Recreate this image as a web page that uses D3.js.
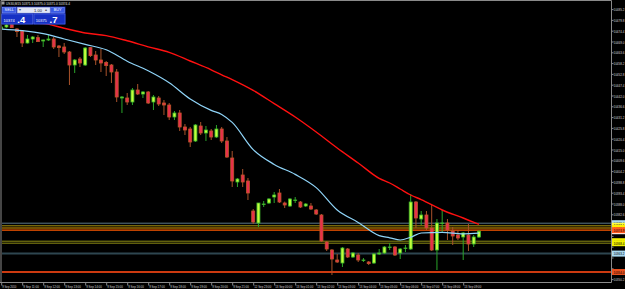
<!DOCTYPE html>
<html>
<head>
<meta charset="utf-8">
<script src="https://cdn.jsdelivr.net/npm/d3@7"></script>
<style>
  html, body { margin: 0; padding: 0; background: #000; }
  svg { display: block; }
  text { font-family: "Liberation Sans", Arial, sans-serif; }
</style>
</head>
<body>
<svg id="chart" width="625" height="289"></svg>
<script>
// US30 M15 candles, 9 Sep 10:00 -> 13 Sep morning
const open = [
  10475.8, 10476.5, 10477.7, 10475.5, 10474.5, 10468.5, 10470.5, 10471.2, 10469.5, 10470.0,
  10470.5, 10467.0, 10466.5, 10464.0, 10457.5, 10460.5, 10457.5, 10466.2, 10462.5, 10460.0,
  10458.8, 10457.5, 10454.0, 10441.0, 10441.0, 10439.0, 10445.0, 10443.0, 10444.0, 10439.0,
  10441.0, 10438.5, 10437.5, 10431.5, 10433.5, 10426.5, 10425.5, 10419.5, 10427.0, 10423.5,
  10424.5, 10421.5, 10425.5, 10419.5, 10411.0, 10399.0, 10402.5, 10399.5, 10384.5, 10378.5,
  10387.8, 10388.5, 10391.5, 10393.5, 10388.5, 10387.0, 10389.8, 10389.0, 10387.0, 10387.0,
  10385.0, 10382.5, 10369.0, 10365.0, 10360.0, 10358.5, 10365.5, 10361.5, 10362.5, 10359.8,
  10359.0, 10358.5, 10363.0, 10363.5, 10366.3, 10366.5, 10363.5, 10365.8, 10365.5, 10389.0,
  10380.5, 10382.5, 10376.0, 10365.0, 10378.3, 10378.5, 10374.5, 10372.5, 10371.5, 10372.5,
  10368.0, 10371.5
];
const high = [
  10477.0, 10478.5, 10478.0, 10476.0, 10475.0, 10472.5, 10472.0, 10472.5, 10470.2, 10472.5,
  10471.5, 10467.5, 10468.5, 10464.5, 10460.5, 10461.5, 10466.5, 10466.5, 10464.5, 10465.5,
  10459.5, 10458.0, 10455.5, 10442.0, 10443.5, 10446.0, 10448.0, 10444.5, 10444.5, 10442.5,
  10442.0, 10440.0, 10438.5, 10434.5, 10435.0, 10428.0, 10426.5, 10428.0, 10429.0, 10427.0,
  10425.5, 10427.5, 10426.5, 10421.5, 10414.5, 10401.0, 10405.5, 10401.0, 10385.5, 10388.5,
  10389.5, 10391.0, 10394.0, 10395.5, 10389.2, 10391.0, 10391.5, 10389.5, 10388.5, 10388.5,
  10385.5, 10383.0, 10369.5, 10365.5, 10363.0, 10366.5, 10366.0, 10364.0, 10363.5, 10361.0,
  10359.5, 10363.5, 10365.5, 10367.0, 10368.5, 10367.0, 10366.0, 10367.5, 10393.0, 10389.5,
  10384.5, 10384.5, 10387.5, 10380.5, 10385.0, 10380.5, 10376.5, 10375.0, 10374.0, 10378.0,
  10372.5, 10375.0
];
const low = [
  10475.0, 10476.0, 10476.0, 10471.5, 10466.5, 10468.2, 10468.5, 10469.0, 10466.5, 10469.5,
  10465.5, 10461.5, 10463.0, 10447.5, 10453.5, 10456.5, 10457.0, 10461.5, 10457.5, 10454.0,
  10452.0, 10448.5, 10439.0, 10433.5, 10437.5, 10437.5, 10442.5, 10441.0, 10438.0, 10435.0,
  10437.0, 10432.5, 10430.0, 10430.0, 10424.5, 10422.5, 10416.5, 10419.0, 10422.5, 10419.5,
  10420.0, 10421.0, 10418.5, 10411.0, 10396.5, 10396.5, 10396.5, 10390.0, 10378.0, 10376.5,
  10386.5, 10388.0, 10388.5, 10388.5, 10386.0, 10386.5, 10388.5, 10386.0, 10386.5, 10385.0,
  10382.5, 10369.0, 10364.5, 10352.5, 10358.5, 10356.5, 10361.0, 10361.0, 10359.0, 10359.0,
  10357.5, 10358.0, 10362.5, 10363.0, 10365.0, 10362.0, 10360.5, 10364.0, 10365.0, 10376.0,
  10377.5, 10375.0, 10364.5, 10355.0, 10373.5, 10370.0, 10367.5, 10370.0, 10360.0, 10364.5,
  10366.5, 10371.0
];
const close = [
  10476.5, 10477.5, 10476.2, 10474.2, 10468.5, 10470.5, 10471.5, 10469.2, 10470.0, 10470.5,
  10466.5, 10466.2, 10464.0, 10457.5, 10460.0, 10458.5, 10466.0, 10462.2, 10460.0, 10458.5,
  10457.2, 10454.0, 10441.5, 10441.5, 10439.0, 10445.0, 10443.0, 10444.0, 10438.5, 10441.5,
  10438.0, 10437.5, 10431.5, 10433.5, 10426.5, 10425.0, 10419.0, 10427.5, 10423.5, 10425.0,
  10421.5, 10425.5, 10419.5, 10411.5, 10399.5, 10400.5, 10399.0, 10393.5, 10379.0, 10388.5,
  10388.0, 10390.5, 10392.5, 10389.0, 10387.5, 10390.5, 10390.0, 10386.5, 10388.0, 10385.5,
  10383.0, 10369.5, 10365.5, 10360.5, 10359.0, 10366.0, 10361.5, 10363.5, 10360.0, 10360.0,
  10358.2, 10363.0, 10363.5, 10366.5, 10366.5, 10362.5, 10365.5, 10366.0, 10389.0, 10381.0,
  10382.5, 10376.0, 10365.0, 10378.5, 10378.5, 10375.0, 10372.0, 10371.0, 10373.5, 10368.0,
  10371.5, 10374.4
];

// moving averages at these bars
const maBars = [0, 4, 8, 12, 16, 20, 24, 28, 32, 36, 40, 42, 44, 48, 52, 56, 60, 64, 68, 72, 74, 76, 78, 80, 84, 88, 91];
const maSlow = [10478.8, 10478.5, 10478.2, 10475.9, 10473.5, 10472.2, 10469.6, 10466.6, 10463.8, 10459.5,
  10455.1, 10452.6, 10450.2, 10444.8, 10438.2, 10431.5, 10424.0, 10416.0, 10408.5, 10400.8,
  10398.5, 10395.5, 10392.5, 10390.2, 10385.0, 10381.0, 10377.8];
const maFast = [10475.5, 10474.7, 10473.2, 10470.5, 10467.8, 10465.1, 10459.4, 10454.6, 10448.6, 10440.5,
  10434.8, 10432.8, 10428.8, 10415.2, 10407.8, 10402.8, 10396.2, 10385.0, 10378.8, 10372.2,
  10371.1, 10370.0, 10371.4, 10373.5, 10373.8, 10373.1, 10373.4];

// horizontal levels
const levelPrices = [10378.4, 10377.1, 10376.0, 10374.9, 10369.4, 10368.4, 10363.2, 10354.0];

const priceTicks = [
  10485.2, 10479.8, 10474.4, 10469.0, 10463.6, 10458.2, 10452.8, 10447.4, 10442.0, 10436.6,
  10431.2, 10425.8, 10420.4, 10415.0, 10409.6, 10404.2, 10398.8, 10393.4, 10388.0, 10382.6,
  10377.2, 10371.8, 10366.4, 10361.0, 10355.6, 10350.2
];
const timeLabels = [
  '9 Sep 2010', '9 Sep 11:00', '9 Sep 12:00', '9 Sep 13:00', '9 Sep 14:00', '9 Sep 15:00',
  '9 Sep 16:00', '9 Sep 17:00', '9 Sep 18:00', '9 Sep 19:00', '9 Sep 20:00', '9 Sep 21:00',
  '12 Sep 23:00', '13 Sep 00:00', '13 Sep 01:00', '13 Sep 02:00', '13 Sep 03:00', '13 Sep 04:00',
  '13 Sep 05:00', '13 Sep 06:00', '13 Sep 07:00', '13 Sep 08:00', '13 Sep 09:00'
];
const barsPerLabel = 4;

const symbol = 'US30,M15';
const bid = 10374.4;
const ask = 10375.7;
const lots = '1.00';

// styles for the levels (same order as levelPrices)
const levelLine = ['#5c7888', '#a89410', '#e09a00', '#ff5a00', '#8c8a14', '#8c8a14', '#2e4650', '#cc3a10'];
const levelWidth = [1, 1, 1, 1.2, 1, 1, 2, 2];
const levelTag = ['#a8d8f0', '#ffff40', '#ffee00', '#ff5a1e', '#f0f000', '#f0f000', '#a8d8f0', '#e8501e'];

const svg = d3.select('#chart');
const axisRight = 611.5, axisBottom = 282.5;

const x = d3.scaleLinear()
  .domain([0, open.length - 1])
  .range([1.2, 478.95]);

const y = d3.scaleLinear()
  .domain([d3.min(priceTicks), d3.max(priceTicks)])
  .range([279.6, 9.6]);

svg.append('rect').attr('width', 625).attr('height', 289).attr('fill', '#000');

svg.append('defs').append('clipPath').attr('id', 'plot-clip')
  .append('rect').attr('x', 2).attr('y', 1).attr('width', axisRight - 2).attr('height', axisBottom - 1);

const plot = svg.append('g').attr('clip-path', 'url(#plot-clip)');

// levels behind the candles
plot.append('g').selectAll('line')
  .data(levelPrices)
  .enter()
  .append('line')
    .attr('x1', 2).attr('x2', axisRight)
    .attr('y1', d => y(d)).attr('y2', d => y(d))
    .attr('stroke', (d, i) => levelLine[i])
    .attr('stroke-width', (d, i) => levelWidth[i]);

// candles
const bars = d3.range(open.length).map(i => ({
  i, o: open[i], h: high[i], l: low[i], c: close[i], up: close[i] >= open[i]
}));

const candle = plot.append('g').selectAll('g')
  .data(bars)
  .enter()
  .append('g');

candle.append('line')
  .attr('x1', d => x(d.i)).attr('x2', d => x(d.i))
  .attr('y1', d => y(d.h)).attr('y2', d => y(d.l))
  .attr('stroke', d => d.up ? '#2aa52a' : '#a8522a')
  .attr('stroke-width', 1);

candle.append('rect')
  .attr('x', d => x(d.i) - 1.5)
  .attr('width', 3)
  .attr('y', d => y(Math.max(d.o, d.c)))
  .attr('height', d => Math.max(Math.abs(y(d.o) - y(d.c)), 0.4))
  .attr('fill', d => d.up ? '#c2ff3c' : '#e8304c')
  .attr('stroke', d => d.up ? '#3cb52a' : '#bc5628')
  .attr('stroke-width', 0.8);

// moving averages
const maLine = d3.line()
  .x((d, k) => x(maBars[k]))
  .y(d => y(d))
  .curve(d3.curveMonotoneX);

plot.append('path')
  .attr('d', maLine(maSlow))
  .attr('fill', 'none')
  .attr('stroke', '#ff1010')
  .attr('stroke-width', 1.4);

plot.append('path')
  .attr('d', maLine(maFast))
  .attr('fill', 'none')
  .attr('stroke', '#8fd4f8')
  .attr('stroke-width', 1.2);

// frame
svg.append('path')
  .attr('d', `M1,${axisBottom} V0.5 H${axisRight} V${axisBottom} H0`)
  .attr('fill', 'none')
  .attr('stroke', '#8a8a8a')
  .attr('stroke-width', 1);

// price axis; labels hidden under a price tag are left out
const tagPrices = [bid].concat(levelPrices);
const freeTicks = priceTicks.filter(p => tagPrices.every(t => Math.abs(y(t) - y(p)) > 5));

const yTicks = svg.append('g');
yTicks.selectAll('line')
  .data(priceTicks)
  .enter()
  .append('line')
    .attr('x1', axisRight).attr('x2', axisRight + 2)
    .attr('y1', d => y(d)).attr('y2', d => y(d))
    .attr('stroke', '#8a8a8a');
yTicks.selectAll('text')
  .data(freeTicks)
  .enter()
  .append('text')
    .attr('x', axisRight + 2)
    .attr('y', d => y(d) + 1.6)
    .attr('font-size', 4.4)
    .attr('textLength', 10.8)
    .attr('lengthAdjust', 'spacingAndGlyphs')
    .attr('fill', '#d4d4d4')
    .text(d => d.toFixed(1));

// time axis
const xTicks = svg.append('g');
xTicks.selectAll('line')
  .data(timeLabels)
  .enter()
  .append('line')
    .attr('x1', (d, k) => x(k * barsPerLabel) + 0.5).attr('x2', (d, k) => x(k * barsPerLabel) + 0.5)
    .attr('y1', axisBottom).attr('y2', axisBottom + 3)
    .attr('stroke', '#8a8a8a');
xTicks.selectAll('text')
  .data(timeLabels)
  .enter()
  .append('text')
    .attr('x', (d, k) => x(k * barsPerLabel) + 1)
    .attr('y', 288)
    .attr('font-size', 4.4)
    .attr('textLength', d => d.length * 1.42)
    .attr('lengthAdjust', 'spacingAndGlyphs')
    .attr('fill', '#d4d4d4')
    .text(d => d);

// price tags on the right
const tag = (price, bg) => {
  const g = svg.append('g');
  g.append('rect')
    .attr('x', axisRight + 0.5).attr('y', y(price) - 3)
    .attr('width', 20).attr('height', 6)
    .attr('fill', bg);
  g.append('text')
    .attr('x', axisRight + 2).attr('y', y(price) + 1.6)
    .attr('font-size', 4.4)
    .attr('textLength', 10.8)
    .attr('lengthAdjust', 'spacingAndGlyphs')
    .attr('fill', '#000')
    .text(price.toFixed(1));
};
tag(bid, '#ffffff');
levelPrices.forEach((p, i) => tag(p, levelTag[i]));

// header
svg.append('rect').attr('x', 1.5).attr('y', 1.5).attr('width', 3).attr('height', 3).attr('fill', '#9a9a9a');
svg.append('text')
  .attr('x', 6).attr('y', 5)
  .attr('font-size', 4.2)
  .attr('textLength', 64)
  .attr('lengthAdjust', 'spacingAndGlyphs')
  .attr('fill', '#e0e0e0')
  .text(`${symbol}  ${open[open.length - 1].toFixed(1)} ${high[high.length - 1].toFixed(1)} ${low[low.length - 1].toFixed(1)} ${close[close.length - 1].toFixed(1)}`);

// one click trading panel
const panel = svg.append('g');
panel.append('rect')
  .attr('x', 1.5).attr('y', 6.5).attr('width', 64).attr('height', 18)
  .attr('fill', '#1a2cb0');

[[2.5, 'SELL'], [50.8, 'BUY']].forEach(([bx, label]) => {
  panel.append('rect')
    .attr('x', bx).attr('y', 7.2).attr('width', 13.5).attr('height', 5.8)
    .attr('fill', '#3a5ae4').attr('stroke', '#9bb0ff').attr('stroke-width', 0.4);
  panel.append('text')
    .attr('x', bx + 6.75).attr('y', 11.4)
    .attr('text-anchor', 'middle')
    .attr('font-size', 3.8)
    .attr('fill', '#fff')
    .text(label);
});

panel.append('rect')
  .attr('x', 17.2).attr('y', 7.2).attr('width', 32.8).attr('height', 5.8)
  .attr('fill', '#e2e6f6').attr('stroke', '#8c9ad8').attr('stroke-width', 0.4);
panel.append('text').attr('x', 19).attr('y', 11.4).attr('font-size', 3.6).attr('fill', '#555').text('\u25BE');
panel.append('text').attr('x', 45).attr('y', 11.4).attr('font-size', 3.6).attr('fill', '#555').text('\u25B4');
panel.append('text')
  .attr('x', 38).attr('y', 11.6)
  .attr('text-anchor', 'middle')
  .attr('font-size', 4)
  .attr('fill', '#111')
  .text(lots);

[[1.8, bid], [34, ask]].forEach(([bx, price]) => {
  const [whole, dec] = price.toFixed(1).split('.');
  panel.append('rect')
    .attr('x', bx).attr('y', 14).attr('width', 31).attr('height', 10)
    .attr('fill', '#1630c4').attr('stroke', '#5a74ec').attr('stroke-width', 0.5);
  panel.append('text')
    .attr('x', bx + 1.8).attr('y', 21.8)
    .attr('font-size', 3.8)
    .attr('textLength', 11)
    .attr('lengthAdjust', 'spacingAndGlyphs')
    .attr('fill', '#fff')
    .text(whole);
  panel.append('text')
    .attr('x', bx + 15.5).attr('y', 23)
    .attr('font-size', 9.5)
    .attr('font-weight', 'bold')
    .attr('fill', '#fff')
    .text('.' + dec);
});
</script>
</body>
</html>
